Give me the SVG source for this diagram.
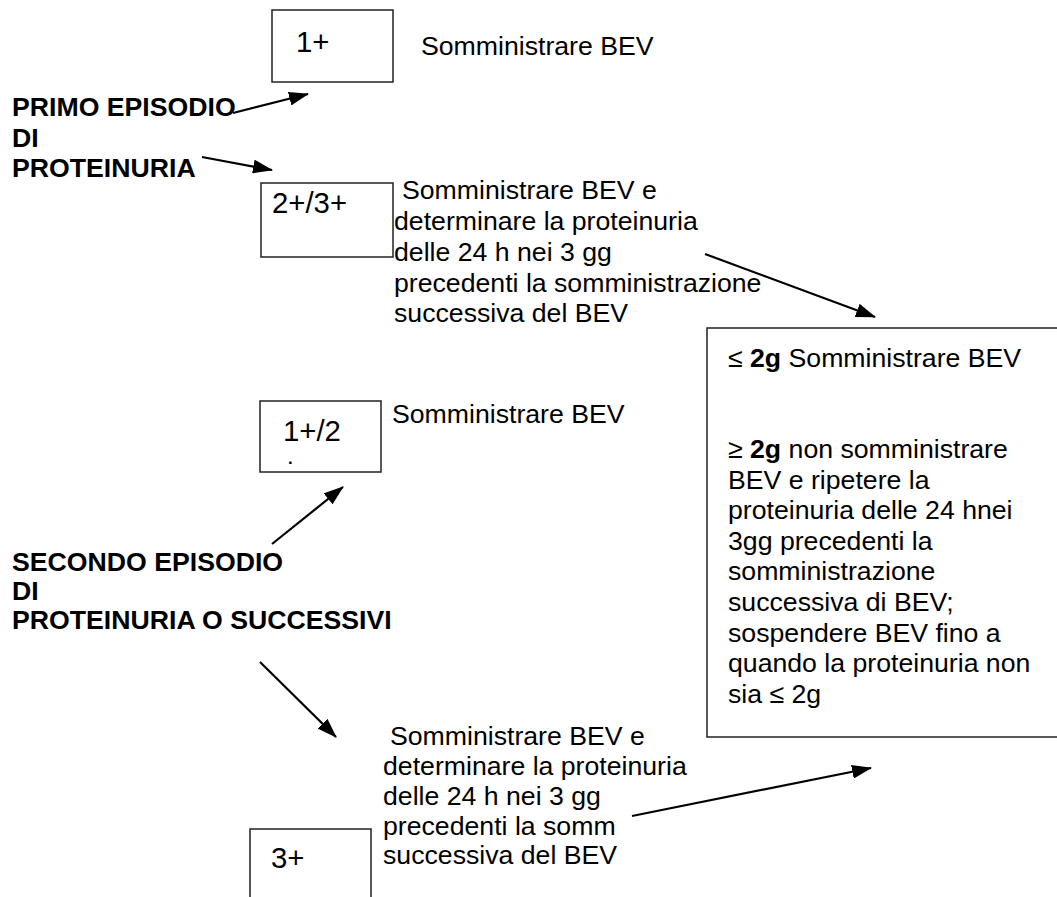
<svg xmlns="http://www.w3.org/2000/svg" width="1057" height="897" viewBox="0 0 1057 897">
<style>
  text { font-family: "Liberation Sans", Arial, sans-serif; font-size: 26.67px; fill: #000; }
  .lbl { font-size: 29.33px; }
  .b { font-weight: bold; }
  .dot { font-size: 17px; font-weight: bold; }
  .box { fill: #fff; stroke: #222; stroke-width: 1.5; }
  .conn { stroke: #000; stroke-width: 2.2; fill: none; marker-end: url(#ah); }
</style>
<defs>
  <marker id="ah" markerUnits="userSpaceOnUse" markerWidth="20" markerHeight="14" refX="19" refY="7" orient="auto">
    <path d="M0,0 L20,7 L0,14 z" fill="#000"/>
  </marker>
</defs>
<rect width="1057" height="897" fill="#fff"/>

<g id="primo">
  <text class="b" x="12" y="116">PRIMO EPISODIO</text>
  <text class="b" x="12" y="146.5">DI</text>
  <text class="b" x="12" y="177">PROTEINURIA</text>
</g>

<g id="box1">
  <rect class="box" x="272" y="10" width="121" height="72"/>
  <text class="lbl" x="296" y="52">1+</text>
</g>
<g id="txt1">
  <text x="421" y="55">Somministrare BEV</text>
</g>

<g id="box2">
  <rect class="box" x="261" y="183" width="132" height="74"/>
  <text class="lbl" x="272" y="213">2+/3+</text>
</g>
<g id="txt2">
  <text x="402" y="199">Somministrare BEV e</text>
  <text x="394" y="230">determinare la proteinuria</text>
  <text x="394" y="261">delle 24 h nei 3 gg</text>
  <text x="394" y="292">precedenti la somministrazione</text>
  <text x="394" y="322">successiva del BEV</text>
</g>

<g id="bigbox">
  <rect class="box" x="707" y="328" width="360" height="409"/>
  <text x="728" y="367">≤ <tspan class="b">2g</tspan> Somministrare BEV</text>
  <text x="728" y="458">≥ <tspan class="b">2g</tspan> non somministrare</text>
  <text x="728" y="488.6">BEV e ripetere la</text>
  <text x="728" y="519.2">proteinuria delle 24 hnei</text>
  <text x="728" y="549.8">3gg precedenti la</text>
  <text x="728" y="580.4">somministrazione</text>
  <text x="728" y="611">successiva di BEV;</text>
  <text x="728" y="641.6">sospendere BEV fino a</text>
  <text x="728" y="672.2">quando la proteinuria non</text>
  <text x="728" y="702.8">sia ≤ 2g</text>
</g>

<g id="box3">
  <rect class="box" x="260" y="401" width="121" height="71"/>
  <text class="lbl" x="283" y="441">1+/2</text>
  <text class="dot" x="288" y="464">.</text>
</g>
<g id="txt3">
  <text x="392" y="423">Somministrare BEV</text>
</g>

<g id="secondo">
  <text class="b" x="12" y="571">SECONDO EPISODIO</text>
  <text class="b" x="12" y="600">DI</text>
  <text class="b" x="12" y="629">PROTEINURIA O SUCCESSIVI</text>
</g>

<g id="txt4">
  <text x="390" y="745">Somministrare BEV e</text>
  <text x="383" y="775">determinare la proteinuria</text>
  <text x="383" y="805">delle 24 h nei 3 gg</text>
  <text x="383" y="835">precedenti la somm</text>
  <text x="383" y="864">successiva del BEV</text>
</g>

<g id="box4">
  <rect class="box" x="250" y="829" width="121" height="100"/>
  <text class="lbl" x="271" y="868">3+</text>
</g>

<g id="connectors">
  <line class="conn" x1="233" y1="113" x2="308" y2="94"/>
  <line class="conn" x1="202" y1="157" x2="272" y2="170"/>
  <line class="conn" x1="705" y1="254" x2="875" y2="317"/>
  <line class="conn" x1="272" y1="544" x2="343" y2="487"/>
  <line class="conn" x1="260" y1="662" x2="336" y2="737"/>
  <line class="conn" x1="632" y1="816" x2="871" y2="768"/>
</g>
</svg>
